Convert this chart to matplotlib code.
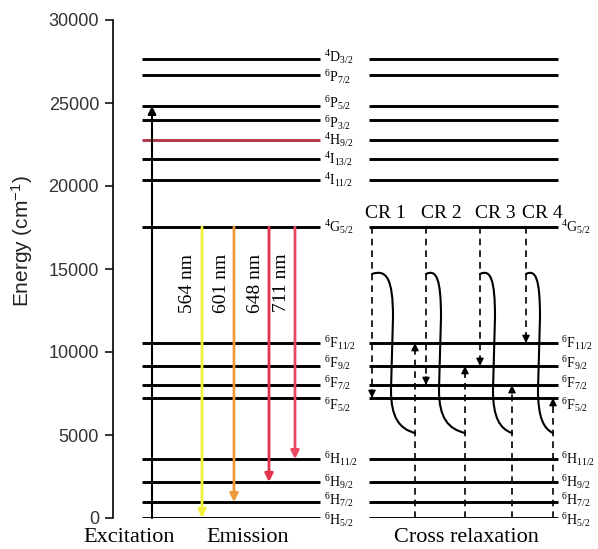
import matplotlib
matplotlib.use("Agg")
import matplotlib.pyplot as plt
from matplotlib.path import Path
from matplotlib.patches import PathPatch

plt.rcParams["mathtext.fontset"] = "custom"
plt.rcParams["mathtext.rm"] = "Liberation Serif"
plt.rcParams["mathtext.it"] = "Liberation Serif:italic"
plt.rcParams["mathtext.sf"] = "Liberation Sans"
SERIF = "Liberation Serif"
SANS = "Liberation Sans"

# Sm3+ energy levels (cm^-1), top to bottom
upper_levels = [27650, 26690, 24820, 23980, 22770, 21630, 20360]
upper_labels = [r"$^4$D$_{3/2}$", r"$^6$P$_{7/2}$", r"$^6$P$_{5/2}$", r"$^6$P$_{3/2}$",
                r"$^4$H$_{9/2}$", r"$^4$I$_{13/2}$", r"$^4$I$_{11/2}$"]
g_level = 17530
g_label = r"$^4$G$_{5/2}$"
f_levels = [10540, 9160, 8010, 7230]
f_labels = [r"$^6$F$_{11/2}$", r"$^6$F$_{9/2}$", r"$^6$F$_{7/2}$", r"$^6$F$_{5/2}$"]
h_levels = [3550, 2170, 960, 0]
h_labels = [r"$^6$H$_{11/2}$", r"$^6$H$_{9/2}$", r"$^6$H$_{7/2}$", r"$^6$H$_{5/2}$"]

# Excitation into 6P levels
excitation_top = 24820

# Emission from 4G5/2 to the 6H multiplet
emission_nm = [564, 601, 648, 711]
emission_targets = [0, 960, 2170, 3550]
emission_colors = ["#f4f03c", "#ee9a3a", "#e2334d", "#e8485f"]

# Cross-relaxation channels: 4G5/2 -> 6F_a  and  6H5/2 -> 6F_b
cr_names = ["CR 1", "CR 2", "CR 3", "CR 4"]
cr_down_targets = [7230, 8010, 9160, 10540]
cr_up_targets = [10540, 9160, 8010, 7230]

# ---- layout (pixel-like x units) ----
W, H = 598, 549
fig = plt.figure(figsize=(W / 100, H / 100), dpi=100)
ax_left, ax_bottom, ax_top = 113, 518, 20
ax = fig.add_axes([ax_left / W, 1 - ax_bottom / H, (W - ax_left) / W, (ax_bottom - ax_top) / H])
ax.set_xlim(ax_left, W)
ax.set_ylim(0, 30000)
for s in ["top", "right", "bottom"]:
    ax.spines[s].set_visible(False)
ax.spines["left"].set_linewidth(1.2)
ax.set_xticks([])
ax.set_yticks(range(0, 30001, 5000))
ax.tick_params(axis="y", direction="out", length=6, width=1.1, labelsize=13,
               labelcolor="#333333", pad=4)
for t in ax.get_yticklabels():
    t.set_fontfamily(SANS)

left_x = (142, 320)
right_x = (369, 558)
lvl_lw = 2.1

# small vertical nudges (in cm^-1) so labels of close-lying levels stay apart
label_nudge = {r"$^4$D$_{3/2}$": 150, r"$^6$P$_{7/2}$": -150,
               r"$^6$P$_{5/2}$": 200, r"$^6$P$_{3/2}$": -200,
               r"$^6$F$_{9/2}$": 150, r"$^6$F$_{7/2}$": 150, r"$^6$F$_{5/2}$": -400,
               r"$^6$H$_{7/2}$": 100, r"$^6$H$_{5/2}$": -100}

all_levels = upper_levels + [g_level] + f_levels + h_levels
all_labels = upper_labels + [g_label] + f_labels + h_labels

for e, lab in zip(all_levels, all_labels):
    c = "#b23a48" if lab == r"$^4$H$_{9/2}$" else "black"
    ax.plot(left_x, [e, e], color=c, lw=lvl_lw, solid_capstyle="butt")
    ax.plot(right_x, [e, e], color="black", lw=lvl_lw, solid_capstyle="butt")
    ax.text(left_x[1] + 4, e + label_nudge.get(lab, 0), lab, fontsize=10, family=SERIF,
            va="center", ha="left")

for e, lab in zip([g_level] + f_levels + h_levels, [g_label] + f_labels + h_labels):
    ax.text(right_x[1] + 3, e + label_nudge.get(lab, 0), lab, fontsize=10, family=SERIF,
            va="center", ha="left")

# Excitation arrow
ax.annotate("", xy=(152, excitation_top), xytext=(152, 0),
            arrowprops=dict(arrowstyle="-|>", color="black", lw=1.5, mutation_scale=12,
                            shrinkA=0, shrinkB=0))

# Emission arrows
em_x = [202, 234, 269, 295]
lab_x = [187, 222, 256, 282]
for x, lx, tgt, col, nm in zip(em_x, lab_x, emission_targets, emission_colors, emission_nm):
    ax.annotate("", xy=(x, tgt), xytext=(x, g_level),
                arrowprops=dict(arrowstyle="-|>", color=col, lw=2.0, mutation_scale=12,
                                shrinkA=0, shrinkB=0))
    ax.text(lx, 14150, f"{nm} nm", rotation=90, fontsize=14, family=SERIF,
            ha="center", va="center")

# Cross-relaxation
down_x = [372, 426, 480, 526]
up_x = [415, 465, 512, 553]
mid_x = [393, 441, 495, 540]
curve_top, curve_bot = 14700, 5120
cr_label_x = [385, 441, 495, 542]


def dashed_arrow(x, y0, y1):
    ax.plot([x, x], [y0, y1], color="black", lw=1.2, ls=(0, (4, 3)))
    step = 500 if y1 > y0 else -500
    ax.annotate("", xy=(x, y1), xytext=(x, y1 - step),
                arrowprops=dict(arrowstyle="-|>", color="black", lw=1.0, mutation_scale=11,
                                shrinkA=0, shrinkB=0))


for name, dx, ux, mx, dt, ut, lx in zip(cr_names, down_x, up_x, mid_x,
                                          cr_down_targets, cr_up_targets, cr_label_x):
    dashed_arrow(dx, g_level, dt)
    dashed_arrow(ux, 0, ut)
    verts = [
        (dx, curve_top),
        (dx + 0.7 * (mx - dx), curve_top + 300), (mx, curve_top - 300), (mx, curve_top - 2600),
        (mx - 2, curve_bot + 2600),
        (mx - 2, curve_bot + 900), (mx + 0.3 * (ux - mx), curve_bot + 250), (ux, curve_bot),
    ]
    codes = [Path.MOVETO, Path.CURVE4, Path.CURVE4, Path.CURVE4,
             Path.LINETO, Path.CURVE4, Path.CURVE4, Path.CURVE4]
    ax.add_patch(PathPatch(Path(verts, codes), fill=False, lw=1.5, edgecolor="black",
                           capstyle="round"))
    ax.text(lx, 18350, name, fontsize=14, family=SERIF, ha="center", va="center")

# Axis title and section captions
fig.text(22 / W, 1 - 241 / H, r"Energy (cm$^{\mathsf{-1}}$)", rotation=90, fontsize=15,
         family=SANS, ha="center", va="center", color="#222222")
for txt, cx in [("Excitation", 129), ("Emission", 248), ("Cross relaxation", 466)]:
    fig.text(cx / W, 1 - 537 / H, txt, fontsize=16, family=SERIF, ha="center", va="center")

fig.savefig("out.png", dpi=100)
